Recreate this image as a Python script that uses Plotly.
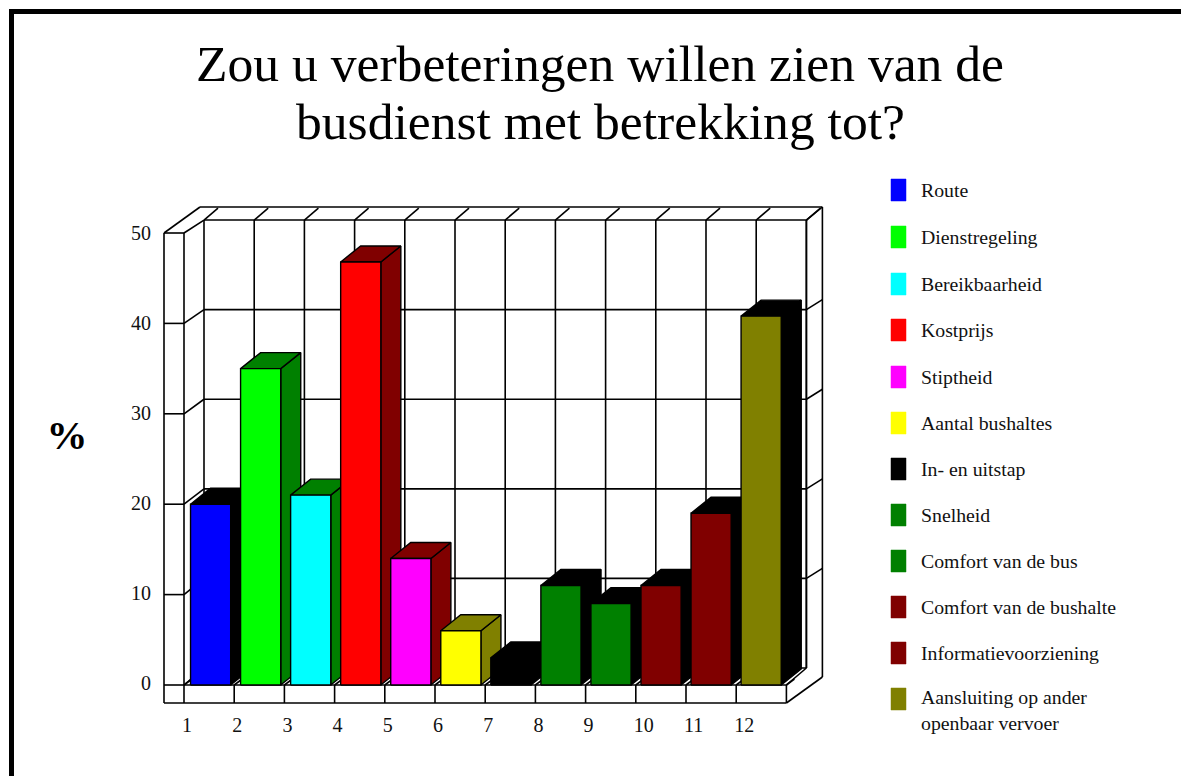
import plotly.graph_objects as go

# ---- data ----
categories = ["1", "2", "3", "4", "5", "6", "7", "8", "9", "10", "11", "12"]
values = [20, 35, 21, 46.8, 14, 6, 3, 11, 9, 11, 19, 40.8]
series_names = ["Route", "Dienstregeling", "Bereikbaarheid", "Kostprijs", "Stiptheid",
                "Aantal bushaltes", "In- en uitstap", "Snelheid", "Comfort van de bus",
                "Comfort van de bushalte", "Informatievoorziening",
                "Aansluiting op ander<br>openbaar vervoer"]
front_colors = ["#0000ff", "#00ff00", "#00ffff", "#ff0000", "#ff00ff", "#ffff00",
                "#000000", "#008000", "#008000", "#800000", "#800000", "#808000"]
shade_colors = ["#000000", "#008000", "#008000", "#800000", "#800000", "#808000",
                "#000000", "#000000", "#000000", "#000000", "#000000", "#000000"]
y_ticks = [0, 10, 20, 30, 40, 50]
title_lines = ["Zou u verbeteringen willen zien van de", "busdienst met betrekking tot?"]

# ---- scale of the data axes on the page ----
W, H = 1181, 776
X0, UX = 184.0, 50.2     # page x of category edge 0, pixels per category
Y0, UY = 685.0, 9.04     # page y of value 0, pixels per value unit


def dx(px):
    return px / UX


def dy(py):
    return py / UY


def px_x(px):
    return (px - X0) / UX


def px_y(py):
    return (Y0 - py) / UY


n = len(categories)
top = y_ticks[-1]
fig = go.Figure()


def polyline(segments, width=1.6, color="black"):
    xs, ys = [], []
    for seg in segments:
        xs += [p[0] for p in seg] + [None]
        ys += [p[1] for p in seg] + [None]
    fig.add_trace(go.Scatter(x=xs, y=ys, mode="lines", hoverinfo="skip",
                             line=dict(color=color, width=width, shape="linear")))


def poly(points, fill, line="black", width=1.4):
    fig.add_trace(go.Scatter(x=[p[0] for p in points] + [points[0][0]],
                             y=[p[1] for p in points] + [points[0][1]],
                             mode="lines", fill="toself", fillcolor=fill, hoverinfo="skip",
                             line=dict(color=line, width=width)))


# ---- chart box ----
wx, wy = dx(20), dy(17)            # depth of the floor / side wall
ox0 = -dx(20)                      # outer front-left edge
oy0 = -dy(18)                      # outer front-bottom edge
ox1 = n                            # outer front-right edge
bx, by = dx(36), dy(26)            # depth of the outer frame
seg = []
# back wall gridlines
for t in y_ticks:
    seg.append([(wx, t + wy - t * 0.009), (n + wx, t + wy - t * 0.009)])
for i in range(n + 1):
    seg.append([(i + wx, wy), (i + wx, top + wy - 0.45)])
    seg.append([(i + wx, top + wy - 0.45), (i + wx + dx(14), top + wy - 0.45 + dy(12))])
    seg.append([(i, 0), (i + dx(8), dy(6))])
    seg.append([(i, 0), (i, oy0)])
# left strip
seg.append([(ox0, oy0), (ox0, top)])
seg.append([(0, 0), (0, top)])
for t in y_ticks:
    seg.append([(ox0, t), (0, t)])
    seg.append([(0, t), (wx, t + wy - t * 0.009)])
seg.append([(ox0, top), (ox0 + bx, top + by)])
seg.append([(ox0 + bx, top + by), (n + wx + dx(16), top + by)])
# floor / bottom
seg.append([(ox0, oy0), (ox1, oy0)])
seg.append([(0, 0), (n, 0)])
seg.append([(n, 0), (n + wx, wy)])
seg.append([(ox1, oy0), (n + wx + dx(16), oy0 + by)])
# right side of the box
seg.append([(n + wx + dx(16), oy0 + by), (n + wx + dx(16), top + by)])
seg.append([(n + wx, wy), (n + wx, top + wy - 0.45)])
seg.append([(n + wx, top + wy - 0.45), (n + wx + dx(16), top + by)])
for t in y_ticks[1:-1]:
    seg.append([(n + wx, t + wy - t * 0.009), (n + wx + dx(16), t + wy - t * 0.009 + dy(10))])
polyline(seg)

# ---- 3-D bars ----
bar_l, bar_w, bar_pitch = 0.13, 0.80, 0.997
ddx, ddy = dx(20), dy(16)
for i, v in enumerate(values):
    l = i * bar_pitch + bar_l
    r = l + bar_w
    poly([(r, 0), (r + ddx, ddy), (r + ddx, v + ddy), (r, v)], shade_colors[i])
    poly([(l, v), (r, v), (r + ddx, v + ddy), (l + ddx, v + ddy)], shade_colors[i])
    poly([(l, 0), (r, 0), (r, v), (l, v)], front_colors[i])

# ---- tick labels as text ----
serif = "Liberation Serif"
fig.add_trace(go.Scatter(x=[i + px_x(182) for i in range(n)], y=[px_y(727)] * n,
                         mode="text", text=categories, textposition="middle right",
                         hoverinfo="skip",
                         textfont=dict(family=serif, size=20, color="#111111")))
fig.add_trace(go.Scatter(x=[px_x(151)] * len(y_ticks), y=[t * 0.9956 for t in y_ticks], mode="text",
                         text=[str(t) for t in y_ticks], textposition="middle left",
                         hoverinfo="skip",
                         textfont=dict(family=serif, size=20, color="#111111")))
fig.add_trace(go.Scatter(x=[px_x(67)], y=[px_y(439)], mode="text", text=["<b>%</b>"],
                         textposition="middle center", hoverinfo="skip",
                         textfont=dict(family=serif, size=41, color="black")))

# ---- legend ----
legend_y = [190, 237, 284, 330, 377, 423, 469, 515, 561, 607, 653, 699]
for name, c, ly in zip(series_names, front_colors, legend_y):
    a, b = px_x(891), px_x(906)
    t, u = px_y(ly - 11), px_y(ly + 11)
    poly([(a, u), (b, u), (b, t), (a, t)], c, line=c, width=0.5)
annos = []
for name, ly in zip(series_names, legend_y):
    two = "<br>" in name
    annos.append(dict(x=px_x(919), y=px_y(ly + (11 if two else 0)), text=name, showarrow=False,
                      xanchor="left", yanchor="middle", align="left",
                      font=dict(family=serif, size=19.8, color="#111111")))

# ---- title ----
for line, ty in zip(title_lines, [63, 121]):
    annos.append(dict(x=px_x(600), y=px_y(ty), text=line, showarrow=False,
                      xanchor="center", yanchor="middle",
                      font=dict(family=serif, size=51.6, color="black")))

# ---- page border ----
shapes = [
    dict(type="rect", xref="paper", yref="paper", x0=9 / W, x1=1, y0=1 - 14 / H, y1=1 - 9 / H,
         fillcolor="black", line_width=0),
    dict(type="rect", xref="paper", yref="paper", x0=9 / W, x1=14 / W, y0=0, y1=1 - 9 / H,
         fillcolor="black", line_width=0),
]

fig.update_layout(
    width=W, height=H, margin=dict(l=0, r=0, t=0, b=0), showlegend=False,
    paper_bgcolor="white", plot_bgcolor="white", annotations=annos, shapes=shapes,
    xaxis=dict(range=[px_x(0), px_x(W)], visible=False, fixedrange=True),
    yaxis=dict(range=[px_y(H), px_y(0)], visible=False, fixedrange=True),
)
fig.write_html("out.html", config={"displayModeBar": False},
               post_script="document.body.style.margin='0';document.documentElement.style.overflow='hidden';")
